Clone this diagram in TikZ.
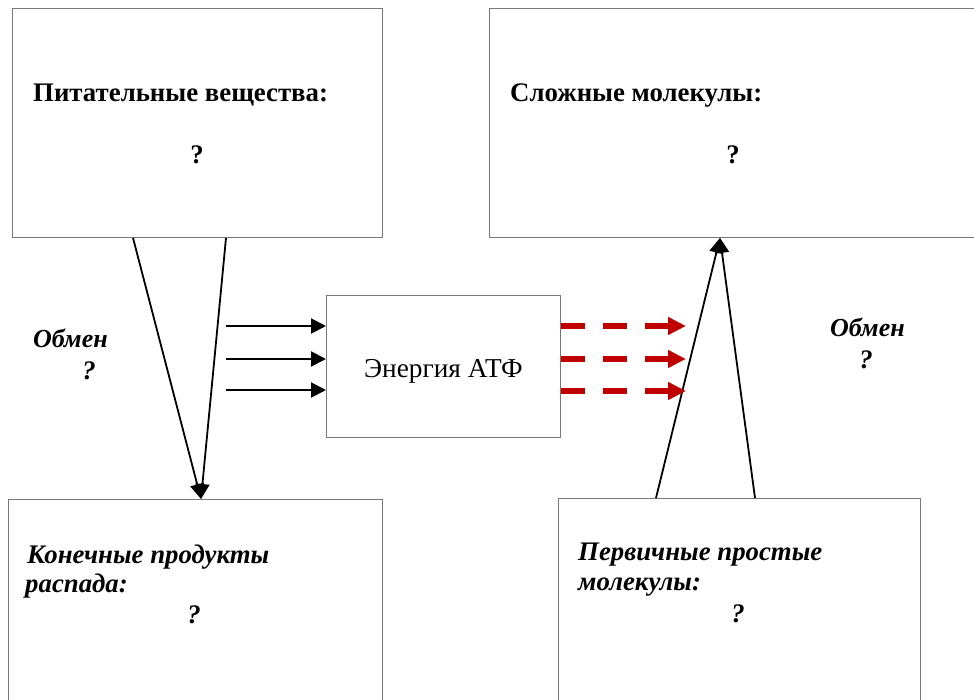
\documentclass[tikz,border=0pt]{standalone}
\usepackage{fontspec}
\setmainfont{Liberation Serif}
\usetikzlibrary{arrows.meta}
\definecolor{boxgray}{RGB}{120,120,120}
\definecolor{atpred}{RGB}{192,0,0}
\tikzset{
  box/.style={draw=boxgray, line width=0.9pt, rectangle, inner sep=0pt, anchor=north west},
  title/.style={anchor=base west, inner sep=0pt, font=\fontsize{26.8}{29}\selectfont\bfseries},
  ititle/.style={anchor=base west, inner sep=0pt, font=\fontsize{26.8}{29}\selectfont\bfseries\itshape},
  otitle/.style={anchor=base west, inner sep=0pt, font=\fontsize{26}{29}\selectfont\bfseries\itshape},
  qmark/.style={anchor=base, inner sep=0pt, font=\fontsize{26.8}{29}\selectfont\bfseries},
  iqmark/.style={anchor=base, inner sep=0pt, font=\fontsize{26.8}{29}\selectfont\bfseries\itshape},
  diag/.style={line width=1.8pt, -{Triangle[length=15pt,width=14pt]}},
  inarrow/.style={line width=2pt, -{Triangle[length=15pt,width=15pt]}},
  outarrow/.style={atpred, line width=6pt, dash pattern=on 24pt off 18pt, -{Triangle[length=18pt,width=17pt]}}
}
\begin{document}
\begin{tikzpicture}[x=1pt,y=-1pt]
\useasboundingbox (0,0) rectangle (974,700);
\clip (0,0) rectangle (974,700);
% boxes
\node[box, minimum width=370pt, minimum height=229pt] (tl) at (12,8) {};
\node[box, minimum width=500pt, minimum height=229pt] (tr) at (489,8) {};
\node[box, minimum width=374pt, minimum height=230pt] (bl) at (8,499) {};
\node[box, minimum width=362pt, minimum height=230pt] (br) at (558,498) {};
\node[box, minimum width=234pt, minimum height=142pt, text height=22pt, text depth=0pt, font=\fontsize{27.3}{29}\selectfont] (atp) at (326,295) {Энергия АТФ};
% texts
\node[title] (tlt) at (33,102) {Питательные вещества:};
\node[qmark] (tlq) at (197,164) {?};
\node[title] (trt) at (510,102) {Сложные молекулы:};
\node[qmark] (trq) at (733,164) {?};
\node[ititle] (blt1) at (27,563) {Конечные продукты};
\node[ititle] (blt2) at (25,592) {распада:};
\node[iqmark] (blq) at (194,623) {?};
\node[ititle] (brt1) at (578,560) {Первичные простые};
\node[ititle] (brt2) at (578,590) {молекулы:};
\node[iqmark] (brq) at (738,622) {?};
\node[otitle] (ol) at (33,348) {Обмен};
\node[iqmark] (olq) at (89,379) {?};
\node[otitle] (or) at (830,337) {Обмен};
\node[iqmark] (orq) at (866,368) {?};
% diagonal connectors
\draw[diag] ([xshift=121pt]tl.south west) -- ([xshift=193pt]bl.north west);
\draw[diag] ([xshift=214pt]tl.south west) -- ([xshift=193pt]bl.north west);
\draw[diag] ([xshift=98pt]br.north west) -- ([xshift=231pt]tr.south west);
\draw[diag] ([xshift=197pt]br.north west) -- ([xshift=231pt]tr.south west);
% input arrows
\coordinate (i1) at (226,326);
\coordinate (i2) at (226,359);
\coordinate (i3) at (226,390);
\draw[inarrow] (i1) -- (i1 -| atp.west);
\draw[inarrow] (i2) -- (i2 -| atp.west);
\draw[inarrow] (i3) -- (i3 -| atp.west);
% output arrows
\coordinate (o1) at (686,326);
\coordinate (o2) at (686,359);
\coordinate (o3) at (686,391);
\draw[outarrow] (o1 -| atp.east) -- (o1);
\draw[outarrow] (o2 -| atp.east) -- (o2);
\draw[outarrow] (o3 -| atp.east) -- (o3);
\end{tikzpicture}
\end{document}
